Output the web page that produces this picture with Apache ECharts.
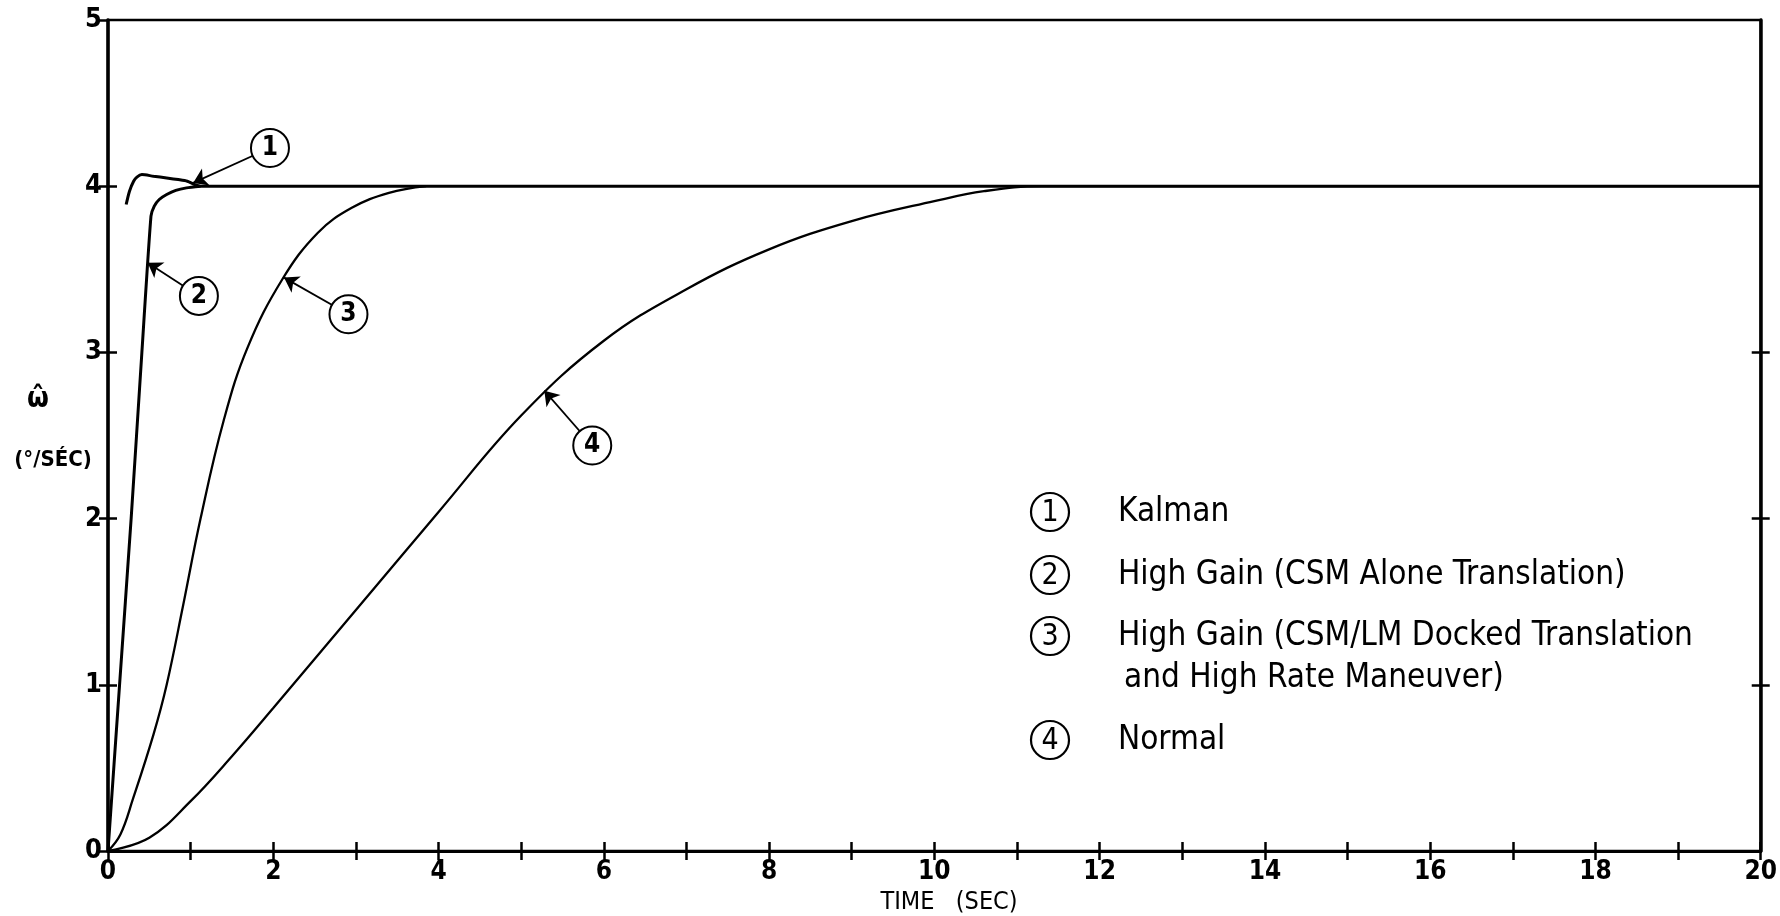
<!DOCTYPE html>
<html>
<head>
<meta charset="utf-8">
<script src="https://cdn.jsdelivr.net/npm/echarts@6/dist/echarts.min.js"></script>
<style>
html,body{margin:0;padding:0;background:#fff;}
#chart{width:1780px;height:916px;}
</style>
</head>
<body>
<div id="chart"></div>
<script>
// ---- data (time in sec, rate in deg/sec) ----
const kalman = [[0.22,3.89],[0.26,3.97],[0.31,4.03],[0.35,4.055],[0.41,4.07],[0.55,4.06],[0.71,4.05],[0.85,4.04],[0.96,4.03],[1.05,4.01],[1.12,4.0],[20,4.0]];
const highGainCSM = [[0,0],[0.14,1.0],[0.28,2.0],[0.41,3.0],[0.52,3.82],[0.56,3.88],[0.62,3.92],[0.71,3.95],[0.82,3.975],[0.95,3.99],[1.12,4.0]];
const highGainDocked = [[0,0],[0.15,0.1],[0.3,0.31],[0.55,0.7],[0.71,1.0],[0.91,1.48],[1.12,2.0],[1.4,2.59],[1.69,3.03],[2.11,3.44],[2.54,3.72],[2.95,3.87],[3.4,3.96],[3.85,4.0]];
const normal = [[0,0],[0.5,0.08],[1,0.3],[1.5,0.57],[2,0.86],[3,1.45],[4,2.04],[5,2.62],[6,3.07],[7,3.38],[8,3.62],[9,3.79],[10,3.91],[10.6,3.97],[11.3,4.0],[20,4.0]];
// annotation callouts: [circleX, circleY, arrowTipX, arrowTipY, label]
const callouts = [[1.96,4.23,1.03,4.02,'1'],[1.10,3.34,0.48,3.54,'2'],[2.91,3.23,2.13,3.45,'3'],[5.86,2.44,5.28,2.77,'4']];
const legendLabels = [['1','Kalman'],['2','High Gain (CSM Alone Translation)'],['3','High Gain (CSM/LM Docked Translation','and High Rate Maneuver)'],['4','Normal']];
const xTicks = [0,2,4,6,8,10,12,14,16,18,20];
const yTicks = [0,1,2,3,4,5];

const FONT = '"Liberation Sans Narrow","DejaVu Sans Condensed","Liberation Sans",sans-serif';
const chart = echarts.init(document.getElementById('chart'));

const lineSeries = (data, w, sm) => ({
  type:'line', data, showSymbol:false, smooth:sm, xAxisIndex:0, yAxisIndex:0,
  lineStyle:{color:'#000', width:w}, z:3, animation:false
});

const legendGraphic = [];
const legendY = [512,575,636,740];
legendLabels.forEach((row,i)=>{
  const y = legendY[i];
  legendGraphic.push({type:'circle', shape:{cx:1050,cy:y,r:19}, style:{fill:'#fff',stroke:'#000',lineWidth:2.2}});
  legendGraphic.push({type:'text', x:1050, y:y+1, style:{text:row[0], font:'30px '+FONT, fill:'#000', align:'center', verticalAlign:'middle'}});
  legendGraphic.push({type:'text', x:1118, y:y, style:{text:row[1], font:'33px '+FONT, fill:'#000', align:'left', verticalAlign:'middle'}});
  if(row[2]) legendGraphic.push({type:'text', x:1124, y:y+42, style:{text:row[2], font:'33px '+FONT, fill:'#000', align:'left', verticalAlign:'middle'}});
});
legendGraphic.push({type:'text', x:38, y:400, style:{text:'ω\u0302', font:'bold 28px '+FONT, fill:'#000', align:'center', verticalAlign:'middle'}});
legendGraphic.push({type:'text', x:53, y:460, style:{text:'(°/SÉC)', font:'bold 22px '+FONT, fill:'#000', align:'center', verticalAlign:'middle'}});
legendGraphic.push({type:'text', x:949, y:902, style:{text:'TIME   (SEC)', font:'25px '+FONT, fill:'#000', align:'center', verticalAlign:'middle'}});

const baseTickStyle = {color:'#000', width:2.5};
chart.setOption({
  animation:false,
  backgroundColor:'#fff',
  grid:{left:108,right:17,top:20,bottom:65,show:true,borderColor:'#000',borderWidth:2.5,backgroundColor:'transparent'},
  xAxis:[
    {type:'value',min:0,max:20,interval:1,position:'bottom',
     axisLine:{show:true,lineStyle:{color:'#000',width:3}},
     axisTick:{show:true,inside:false,length:9,lineStyle:baseTickStyle},
     axisLabel:{formatter:v=> xTicks.indexOf(v)>=0 ? String(v) : '', color:'#000', fontFamily:FONT, fontWeight:'bold', fontSize:26, margin:8},
     splitLine:{show:false}},
    {type:'value',min:0,max:20,interval:1,position:'bottom',
     axisLine:{show:false},
     axisTick:{show:true,inside:true,length:9,lineStyle:baseTickStyle},
     axisLabel:{show:false},splitLine:{show:false}}
  ],
  yAxis:[
    {type:'value',min:0,max:5,interval:1,position:'left',
     axisLine:{show:true,lineStyle:{color:'#000',width:3.5}},
     axisTick:{show:true,inside:false,length:9,lineStyle:baseTickStyle},
     axisLabel:{formatter:v=> yTicks.indexOf(v)>=0 ? String(v) : '', color:'#000', fontFamily:FONT, fontWeight:'bold', fontSize:27, margin:6},
     splitLine:{show:false}},
    {type:'value',min:0,max:5,interval:1,position:'left',
     axisLine:{show:false},
     axisTick:{show:true,inside:true,length:9,lineStyle:baseTickStyle,customValues:[1,2,3,4]},
     axisLabel:{show:false},splitLine:{show:false}},
    {type:'value',min:0,max:5,interval:1,position:'right',
     axisLine:{show:true,lineStyle:{color:'#000',width:3.5}},
     axisTick:{show:true,inside:false,length:9,lineStyle:baseTickStyle,customValues:[1,2,3]},
     axisLabel:{show:false},splitLine:{show:false}},
    {type:'value',min:0,max:5,interval:1,position:'right',
     axisLine:{show:false},
     axisTick:{show:true,inside:true,length:9,lineStyle:baseTickStyle,customValues:[1,2,3]},
     axisLabel:{show:false},splitLine:{show:false}}
  ],
  series:[
    lineSeries(kalman,3,0.25),
    lineSeries(highGainCSM,3,0.2),
    lineSeries(highGainDocked,2.3,0.4),
    lineSeries(normal,2.3,0.4),
    {type:'lines',coordinateSystem:'cartesian2d',xAxisIndex:0,yAxisIndex:0,z:4,animation:false,
     symbol:['none','arrow'],symbolSize:[1,14],
     lineStyle:{color:'#000',width:1.8,opacity:1,curveness:0},
     data:callouts.map(c=>({coords:[[c[0],c[1]],[c[2],c[3]]]}))},
    {type:'scatter',xAxisIndex:0,yAxisIndex:0,z:5,animation:false,symbol:'circle',symbolSize:38,
     itemStyle:{color:'#fff',borderColor:'#000',borderWidth:2,opacity:1},
     label:{show:true,position:'inside',formatter:p=>p.data[2],color:'#000',fontFamily:FONT,fontWeight:'bold',fontSize:26},
     data:callouts.map(c=>[c[0],c[1],c[4]])}
  ],
  graphic:legendGraphic
});
</script>
</body>
</html>
